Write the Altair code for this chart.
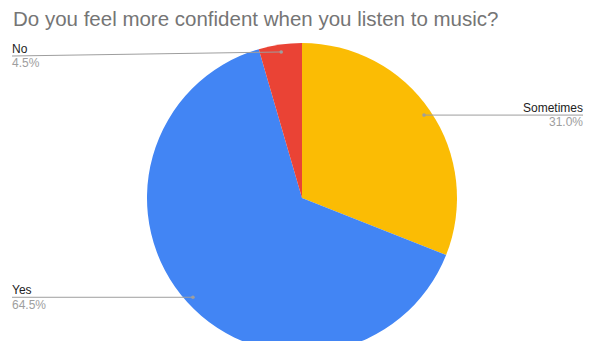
import altair as alt
import pandas as pd
import numpy as np

# ---- data ----
title_text = "Do you feel more confident when you listen to music?"
categories = ["Sometimes", "Yes", "No"]
values = [31.0, 64.5, 4.5]
pct_labels = ["31.0%", "64.5%", "4.5%"]
colors = ["#FBBC04", "#4285F4", "#EA4335"]

# ---- layout (chart coordinates, origin = page (8, 8)) ----
W, H = 576, 333
CX, CY, R = 294, 190, 155
DOT_R = 147.5
LEFT_X, RIGHT_X = 4, 575
line_y_override = {"No": 48}
FONT = "Liberation Sans"

df = pd.DataFrame({
    "category": categories,
    "value": values,
    "pct": pct_labels,
    "order": list(range(len(categories))),
})
total = df["value"].sum()
mid = (df["value"].cumsum() - df["value"] / 2) / total * 2 * np.pi
df["dx"] = CX + DOT_R * np.sin(mid)
df["dy"] = CY - DOT_R * np.cos(mid)
df["side"] = np.where(np.sin(mid) >= 0, "right", "left")
df["lx"] = np.where(df["side"] == "right", RIGHT_X, LEFT_X)
df["ly"] = [line_y_override.get(c, y) for c, y in zip(df["category"], df["dy"])]
df["name_y"] = df["ly"] - 3.2
df["pct_y"] = df["ly"] + 11.3

base = alt.Chart(df)

pie = base.mark_arc(outerRadius=R).encode(
    theta=alt.Theta("value:Q", stack=True),
    color=alt.Color("category:N", scale=alt.Scale(domain=categories, range=colors), legend=None),
    order=alt.Order("order:Q"),
    x=alt.value(CX),
    y=alt.value(CY),
)

X = lambda f: alt.X(f, type="quantitative", scale=None, axis=None)
Y = lambda f: alt.Y(f, type="quantitative", scale=None, axis=None)

leaders = base.mark_rule(color="#9E9E9E", strokeWidth=1).encode(
    x=X("dx"), y=Y("dy"), x2=alt.X2("lx"), y2=alt.Y2("ly")
)
dots = base.mark_circle(size=13, color="#9E9E9E", opacity=1).encode(x=X("dx"), y=Y("dy"))

layers = [pie, leaders, dots]
for side, align in [("left", "left"), ("right", "right")]:
    sub = base.transform_filter(alt.datum.side == side)
    layers.append(
        sub.mark_text(align=align, baseline="alphabetic", fontSize=12, font=FONT, color="#222222").encode(
            x=X("lx"), y=Y("name_y"), text="category:N"
        )
    )
    layers.append(
        sub.mark_text(align=align, baseline="alphabetic", fontSize=12, font=FONT, color="#9E9E9E").encode(
            x=X("lx"), y=Y("pct_y"), text="pct:N"
        )
    )

title = alt.Chart(pd.DataFrame({"t": [title_text]})).mark_text(
    align="left", baseline="alphabetic", fontSize=20.5, font=FONT, color="#757575"
).encode(x=alt.value(5), y=alt.value(18), text="t:N")
layers.append(title)

chart = alt.layer(*layers).properties(
    width=W, height=H, padding=0, autosize=alt.AutoSizeParams(type="none")
).configure_view(stroke=None)

chart.save("out.html", embed_options={"renderer": "svg", "actions": False})
